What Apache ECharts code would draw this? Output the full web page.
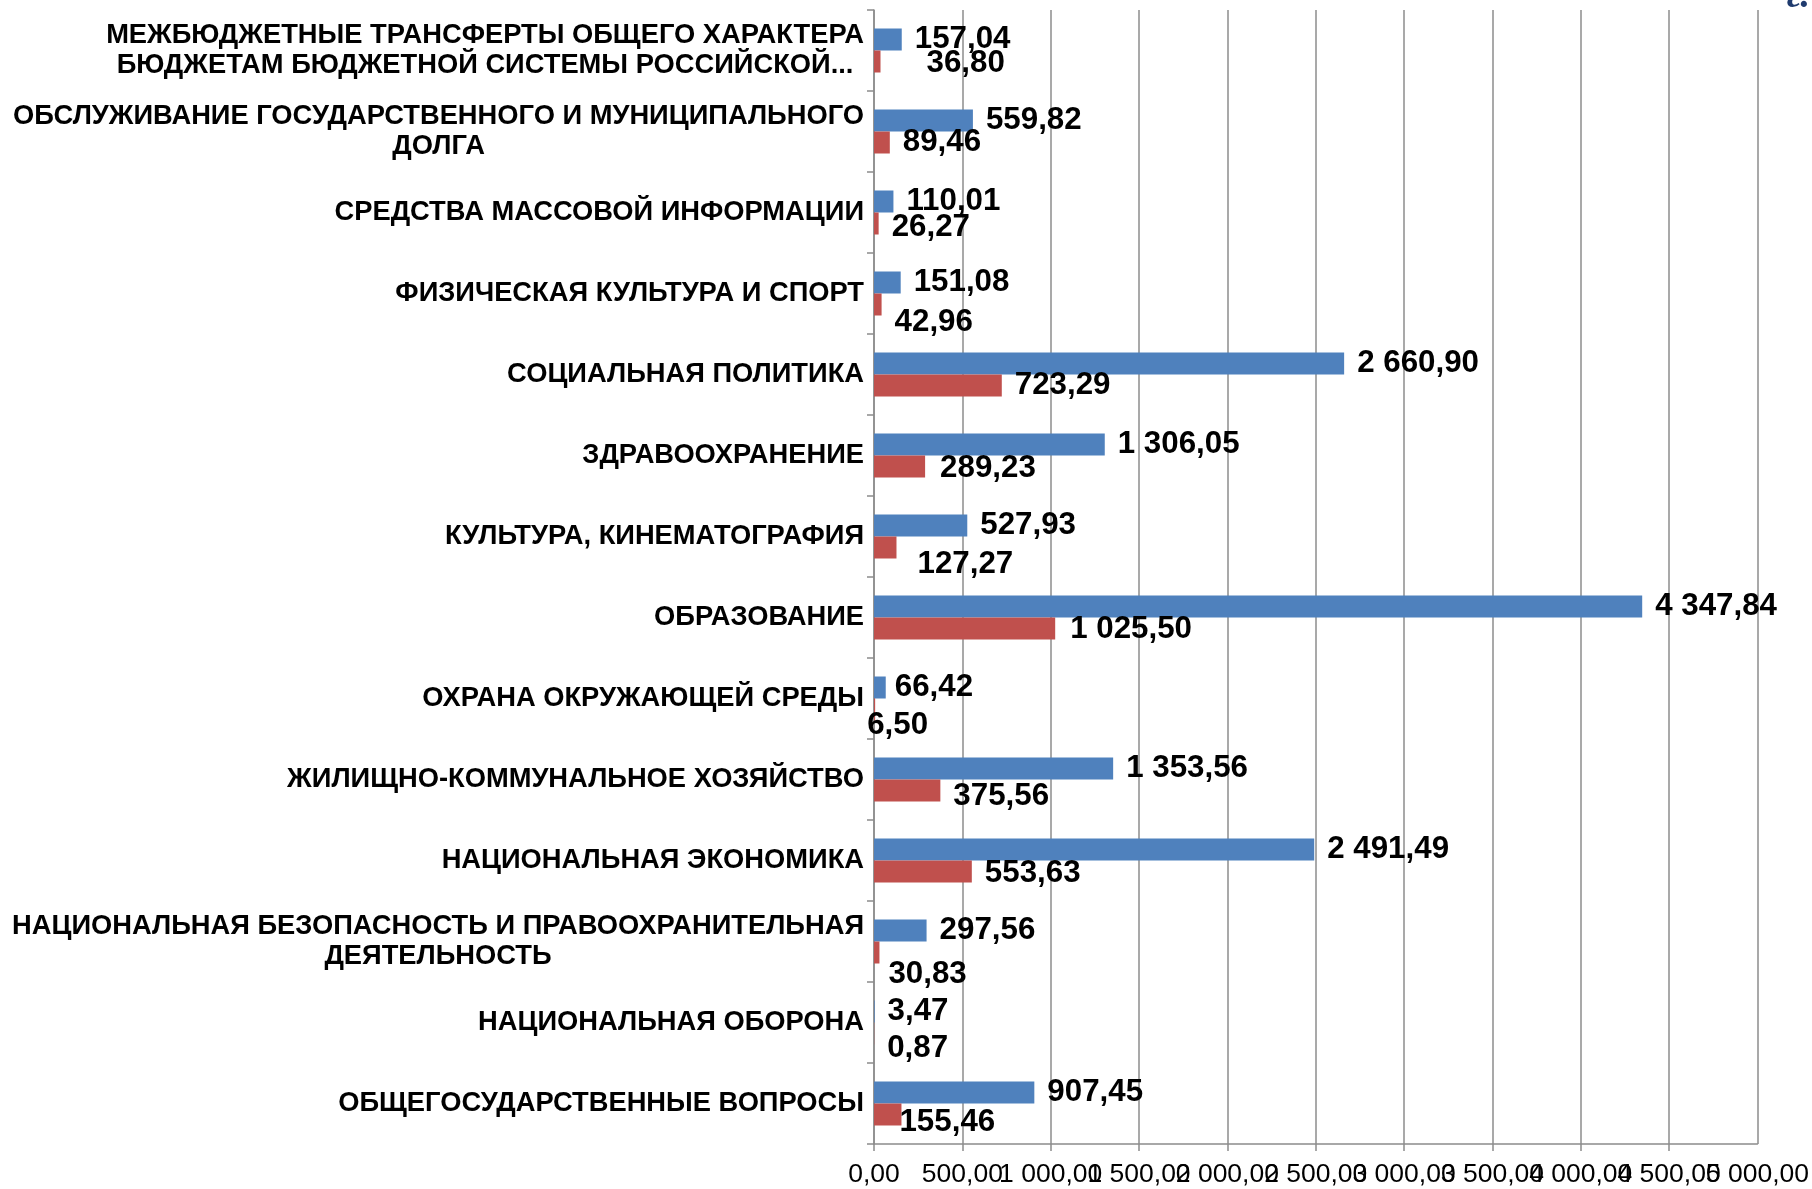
<!DOCTYPE html>
<html>
<head>
<meta charset="utf-8">
<script src="https://cdn.jsdelivr.net/npm/echarts@6/dist/echarts.min.js"></script>
<style>
html,body{margin:0;padding:0;background:#fff;}
#chart{width:1812px;height:1189px;}
</style>
</head>
<body>
<div id="chart"></div>
<script>
// Categories listed bottom to top (as the category axis draws them)
const categories = [
  'ОБЩЕГОСУДАРСТВЕННЫЕ ВОПРОСЫ',
  'НАЦИОНАЛЬНАЯ ОБОРОНА',
  'НАЦИОНАЛЬНАЯ БЕЗОПАСНОСТЬ И ПРАВООХРАНИТЕЛЬНАЯ\nДЕЯТЕЛЬНОСТЬ',
  'НАЦИОНАЛЬНАЯ ЭКОНОМИКА',
  'ЖИЛИЩНО-КОММУНАЛЬНОЕ ХОЗЯЙСТВО',
  'ОХРАНА ОКРУЖАЮЩЕЙ СРЕДЫ',
  'ОБРАЗОВАНИЕ',
  'КУЛЬТУРА, КИНЕМАТОГРАФИЯ',
  'ЗДРАВООХРАНЕНИЕ',
  'СОЦИАЛЬНАЯ ПОЛИТИКА',
  'ФИЗИЧЕСКАЯ КУЛЬТУРА И СПОРТ',
  'СРЕДСТВА МАССОВОЙ ИНФОРМАЦИИ',
  'ОБСЛУЖИВАНИЕ ГОСУДАРСТВЕННОГО И МУНИЦИПАЛЬНОГО\nДОЛГА',
  'МЕЖБЮДЖЕТНЫЕ ТРАНСФЕРТЫ ОБЩЕГО ХАРАКТЕРА\nБЮДЖЕТАМ БЮДЖЕТНОЙ СИСТЕМЫ РОССИЙСКОЙ...'
];
const blueValues = [907.45, 3.47, 297.56, 2491.49, 1353.56, 66.42, 4347.84, 527.93, 1306.05, 2660.90, 151.08, 110.01, 559.82, 157.04];
const redValues  = [155.46, 0.87, 30.83, 553.63, 375.56, 6.50, 1025.50, 127.27, 289.23, 723.29, 42.96, 26.27, 89.46, 36.80];
const xTicks = [0, 500, 1000, 1500, 2000, 2500, 3000, 3500, 4000, 4500, 5000];

// Label nudges (style only), in category order, matching hand-placed labels of the original
const redLabelNudge = [[-15,8],[0,15],[-4,22],[0,2],[0,6],[-21,16],[2,1],[8,17],[2,2],[0,0],[0,18],[0,4],[0,0],[33,2]];
const blueLabelNudge = [[0,0],[0,0],[0,0],[0,0],[0,0],[-4,0],[0,0],[0,0],[0,0],[0,0],[0,0],[0,0],[0,0],[0,0]];

function fmt(v) {
  const s = Number(v).toFixed(2).split('.');
  return s[0].replace(/\B(?=(\d{3})+(?!\d))/g, ' ') + ',' + s[1];
}

const FONT = "'Liberation Sans', Arial, sans-serif";
const GRID_COLOR = '#8c8c8c';
const X_MIN = xTicks[0];
const X_MAX = xTicks[xTicks.length - 1];
const X_STEP = xTicks[1] - xTicks[0];

const chart = echarts.init(document.getElementById('chart'), null, {renderer: 'canvas'});

function items(values, nudge) {
  return values.map((v, i) => ({value: v, label: {offset: nudge[i]}}));
}

const valueLabel = {
  show: true,
  position: 'right',
  distance: 13,
  color: '#000',
  fontFamily: FONT,
  fontWeight: 'bold',
  fontSize: 31.3,
  formatter: p => fmt(p.value)
};

const tickLabelStyle = {color: '#000', fontFamily: FONT, fontSize: 26.5, margin: 17, hideOverlap: false};

chart.setOption({
  animation: false,
  backgroundColor: '#fff',
  grid: {left: 874, top: 10, width: 885, height: 1134, containLabel: false},
  xAxis: [
    {
      type: 'value',
      min: X_MIN, max: X_MAX, interval: X_STEP,
      axisLine: {show: true, lineStyle: {color: GRID_COLOR, width: 1.5}},
      axisTick: {show: true, length: 7, lineStyle: {color: GRID_COLOR, width: 1.5}},
      splitLine: {show: true, lineStyle: {color: GRID_COLOR, width: 1.5}},
      axisLabel: Object.assign({}, tickLabelStyle, {
        formatter: v => fmt(v), showMinLabel: true, showMaxLabel: false
      })
    },
    {
      // carries only the final tick label (the main axis drops it because of overlap)
      type: 'value',
      position: 'bottom',
      min: X_MIN, max: X_MAX, interval: X_STEP,
      axisLine: {show: false},
      axisTick: {show: false},
      splitLine: {show: false},
      axisLabel: Object.assign({}, tickLabelStyle, {
        formatter: v => (v === X_MAX ? fmt(v) : ''), showMinLabel: false, showMaxLabel: true
      })
    }
  ],
  yAxis: {
    type: 'category',
    data: categories,
    axisLine: {show: true, lineStyle: {color: GRID_COLOR, width: 1.5}},
    axisTick: {show: true, length: 7, lineStyle: {color: GRID_COLOR, width: 1.5}},
    splitLine: {show: false},
    axisLabel: {
      interval: 0,
      margin: 10,
      align: 'right',
      formatter: v => v.split('\n').map(l => '{c|' + l + '}').join('\n'),
      rich: {
        c: {align: 'center', color: '#000', fontFamily: FONT, fontWeight: 'bold', fontSize: 27.3, lineHeight: 30}
      }
    }
  },
  series: [
    {
      name: 'blue',
      type: 'bar',
      xAxisIndex: 0,
      data: items(blueValues, blueLabelNudge),
      barWidth: 22,
      barGap: '0%',
      itemStyle: {color: '#4F81BD'},
      label: valueLabel
    },
    {
      name: 'red',
      type: 'bar',
      xAxisIndex: 0,
      data: items(redValues, redLabelNudge),
      barWidth: 22,
      barGap: '0%',
      itemStyle: {color: '#C0504D'},
      label: valueLabel
    }
  ],
  graphic: [{
    type: 'text',
    right: 2,
    top: -22,
    style: {text: 'г.', fill: '#1F3B6E', font: "italic bold 38px 'Liberation Serif', serif"}
  }]
});
</script>
</body>
</html>
